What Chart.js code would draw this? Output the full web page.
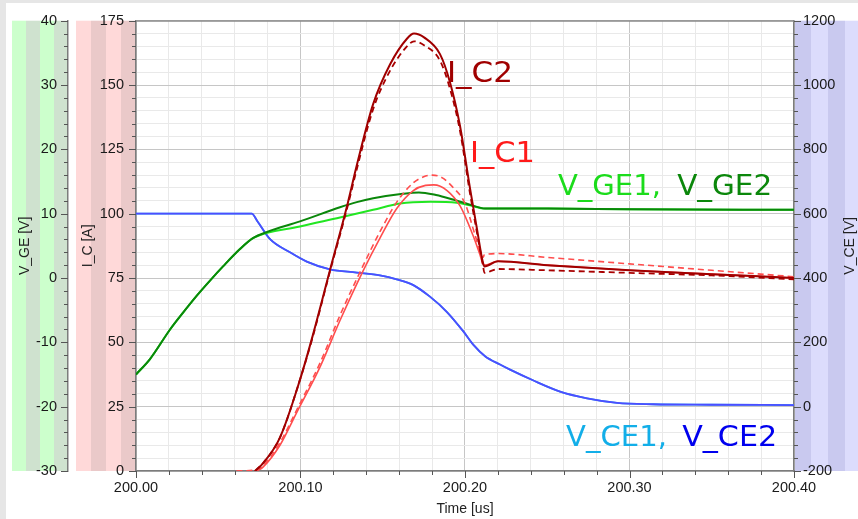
<!DOCTYPE html>
<html><head><meta charset="utf-8">
<script src="https://cdn.jsdelivr.net/npm/chart.js@4"></script>
<style>html,body{margin:0;padding:0;background:#fff}#wrap{width:858px;height:519px;position:relative}</style>
</head><body><div id="wrap"><canvas id="c"></canvas></div>
<script>
// ---- data (time in us) ----
const tVCE = [200.000, 200.0703, 200.0740, 200.0815, 200.0936, 200.1038, 200.1179, 200.1342, 200.1483, 200.1585, 200.1686, 200.1787, 200.1889, 200.1990, 200.2050, 200.2122, 200.2213, 200.2274, 200.2413, 200.2578, 200.2742, 200.2924, 200.3143, 200.3500, 200.4000];
const vCE1 = [600, 600, 575, 521, 480, 451, 427, 417, 408, 396, 378, 342, 295, 234, 193, 157, 131, 115, 82, 47, 26, 12, 7.5, 6, 5];
const vCE2 = [600, 600, 575, 521, 480, 451, 427, 417, 408, 396, 378, 342, 295, 234, 193, 157, 131, 115, 82, 47, 26, 12, 7.5, 6, 5];

const tGE2 = [200.000, 200.0085, 200.0207, 200.0298, 200.0371, 200.045, 200.0529, 200.0632, 200.0711, 200.0800, 200.0997, 200.124, 200.1342, 200.1442, 200.1622, 200.172, 200.1824, 200.1927, 200.2030, 200.2122, 200.25, 200.30, 200.40];
const vGE2 = [-15, -12.6, -8.0, -5.0, -2.7, -0.4, 1.8, 4.5, 6.2, 7.2, 8.8, 11.0, 11.8, 12.4, 13.1, 13.3, 12.9, 12.2, 11.4, 10.8, 10.8, 10.7, 10.6];
const tGE1 = [200.000, 200.0085, 200.0207, 200.0298, 200.0371, 200.045, 200.0529, 200.0632, 200.0711, 200.0997, 200.124, 200.1442, 200.1605, 200.1790, 200.1950, 200.2030, 200.2122, 200.25, 200.30, 200.40];
const vGE1 = [-15, -12.6, -8.0, -5.0, -2.7, -0.4, 1.8, 4.5, 6.2, 8.0, 9.4, 10.6, 11.6, 11.85, 11.7, 11.3, 10.8, 10.8, 10.7, 10.6];

const tIC2 = [200.0723, 200.0772, 200.0875, 200.0997, 200.1076, 200.1179, 200.1283, 200.1343, 200.1441, 200.1544, 200.1647, 200.1690, 200.1751, 200.1848, 200.1909, 200.1970, 200.2030, 200.2073, 200.2109, 200.2118, 200.2200, 200.2500, 200.3000, 200.3500, 200.4000];
const iC2  = [0, 3, 13, 35.5, 53, 78, 103, 119, 142.5, 158, 168, 170, 168.5, 162, 151, 134, 110, 94, 81, 79.5, 81.5, 80, 78, 76.5, 75];
const iC2d = [0, 3, 13, 35.5, 52.5, 77.5, 102, 117.5, 140.5, 155.5, 165, 167, 165.5, 159.5, 148.5, 132, 108, 92.5, 80, 77, 78.5, 78, 77, 76, 74.5];

const tIC1 = [200.0735, 200.0772, 200.0875, 200.0979, 200.1119, 200.1240, 200.1382, 200.1483, 200.1585, 200.1686, 200.1760, 200.1810, 200.1891, 200.1970, 200.2049, 200.2091, 200.2109, 200.2118, 200.2200, 200.2500, 200.3000, 200.3500, 200.4000];
const iC1  = [0, 1.5, 10, 23, 40.5, 58.5, 78, 90.5, 102, 109, 111, 111.2, 109, 103, 91.5, 84, 80.5, 80, 81.5, 80, 78, 76.5, 75];
const tIC1d = [200.0610, 200.0735, 200.0772, 200.0875, 200.0979, 200.1119, 200.1240, 200.1382, 200.1483, 200.1585, 200.1686, 200.1760, 200.1800, 200.1860, 200.1930, 200.2000, 200.2060, 200.2109, 200.2118, 200.2200, 200.2500, 200.3000, 200.3500, 200.4000];
const iC1d  = [0, 0.5, 2, 11, 24, 42, 60.5, 80, 93, 104.5, 112, 114.6, 115, 114, 110, 104, 92, 83, 84, 84.5, 83, 80.5, 78, 75.5];

// tick labels
const xTickLabels  = [200.0, 200.1, 200.2, 200.3, 200.4];
const icTickLabels = [0, 25, 50, 75, 100, 125, 150, 175];
const geTickLabels = [-30, -20, -10, 0, 10, 20, 30, 40];
const ceTickLabels = [-200, 0, 200, 400, 600, 800, 1000, 1200];

// ---- helpers ----
function inList(v, list){ return list.some(a => Math.abs(a - v) < 1e-6); }
function pts(ts, vs){ return ts.map((t, i) => ({x: t, y: vs[i]})); }
function series(label, ts, vs, axis, color, width, dash){
  return {label, data: pts(ts, vs), yAxisID: axis, borderColor: color, borderWidth: width,
    borderDash: dash || [], pointRadius: 0, fill: false, cubicInterpolationMode: 'monotone'};
}
const TICKFONT = {family: '"Liberation Sans", Arial, sans-serif', size: 14.5};
const TITLEFONT = {family: '"Liberation Sans", Arial, sans-serif', size: 14};
const AXIS = '#7c7c7c';
function gridColor(list){
  return c => (c.tick && inList(c.tick.value, list)) ? '#c6c6c6' : '#e9e9e9';
}

function stripes(ctx, x0, x1, y0, y1, cols, w){
  const n = 4; const sw = w || (x1 - x0) / n;
  for (let i = 0, x = x0; x < x1; i++, x += sw){
    ctx.fillStyle = cols[i % 2];
    ctx.fillRect(x, y0, Math.min(sw, x1 - x), y1 - y0);
  }
}
function tickMarks(ctx, scale, side, list){
  ctx.strokeStyle = '#555'; ctx.lineWidth = 1;
  scale.ticks.forEach(t => {
    const major = inList(t.value, list);
    const len = major ? 7 : 4;
    const p = Math.round(scale.getPixelForValue(t.value)) + 0.5;
    ctx.beginPath();
    if (side === 'left'){ ctx.moveTo(scale.right, p); ctx.lineTo(scale.right - len, p); }
    else if (side === 'right'){ ctx.moveTo(scale.left, p); ctx.lineTo(scale.left + len, p); }
    else { ctx.moveTo(p, scale.top); ctx.lineTo(p, scale.top + len); }
    ctx.stroke();
  });
}
function fitText(ctx, text, x, y, w, color){
  ctx.save();
  ctx.font = '28px "DejaVu Sans", Verdana, sans-serif';
  ctx.fillStyle = color; ctx.textBaseline = 'alphabetic'; ctx.textAlign = 'left';
  const m = ctx.measureText(text).width;
  ctx.translate(x, y); ctx.scale(w / m, 1);
  ctx.fillText(text, 0, 0);
  ctx.restore();
}

const deco = {
  id: 'deco',
  beforeDraw(chart){
    const {ctx, chartArea: a, scales: s, width, height} = chart;
    ctx.save();
    ctx.fillStyle = '#fff'; ctx.fillRect(0, 0, width, height);
    ctx.fillStyle = '#e6e6e6'; ctx.fillRect(0, 0, width, 3); ctx.fillRect(0, 0, 6, height);
    stripes(ctx, s.yGE.left, s.yGE.right, a.top, a.bottom, ['#ccffcc', '#cfe2cf']);
    stripes(ctx, s.yIC.left + 8, s.yIC.right, a.top, a.bottom, ['#ffd9d9', '#eac9c9']);
    stripes(ctx, s.yCE.left, width, a.top, a.bottom, ['#c9c9ef', '#dcdcfc'], 17);
    ctx.restore();
  },
  afterDraw(chart){
    const {ctx, chartArea: a, scales: s} = chart;
    ctx.save();
    ctx.strokeStyle = '#8a8a8a'; ctx.lineWidth = 1.5;
    ctx.beginPath(); ctx.moveTo(a.left, a.top + 0.25); ctx.lineTo(a.right, a.top + 0.25); ctx.stroke();
    tickMarks(ctx, s.yGE, 'left', geTickLabels);
    tickMarks(ctx, s.yIC, 'left', icTickLabels);
    tickMarks(ctx, s.yCE, 'right', ceTickLabels);
    tickMarks(ctx, s.x, 'bottom', xTickLabels);
    // right axis title (reads bottom-to-top)
    ctx.save();
    ctx.font = '14px "Liberation Sans", Arial, sans-serif';
    ctx.fillStyle = '#222'; ctx.textAlign = 'center'; ctx.textBaseline = 'middle';
    ctx.translate(s.yCE.right - 8, (a.top + a.bottom) / 2); ctx.rotate(-Math.PI / 2);
    ctx.fillText('V_CE [V]', 0, 0);
    ctx.restore();
    // in-plot labels, anchored in data coordinates
    const X = v => s.x.getPixelForValue(v), Y = v => s.yIC.getPixelForValue(v);
    fitText(ctx, 'I_C2', X(200.189), Y(151.2), 66, '#a00000');
    fitText(ctx, 'I_C1', X(200.203), Y(120), 65, '#ff1a1a');
    fitText(ctx, 'V_GE1,', X(200.2565), Y(107.3), 103, '#1bdc1b');
    fitText(ctx, 'V_GE2', X(200.329), Y(107.3), 95, '#0b870b');
    fitText(ctx, 'V_CE1,', X(200.2614), Y(9.6), 101, '#12aee8');
    fitText(ctx, 'V_CE2', X(200.332), Y(9.6), 95, '#0000ee');
    ctx.restore();
  }
};

new Chart(document.getElementById('c'), {
  type: 'line',
  data: {
    datasets: [
      series('I_C2', tIC2, iC2, 'yIC', '#a00000', 2),
      series('I_C2 (dashed)', tIC2, iC2d, 'yIC', '#a80000', 1.8, [6, 4]),
      series('I_C1', tIC1, iC1, 'yIC', '#ff4d4d', 1.6),
      series('I_C1 (dashed)', tIC1d, iC1d, 'yIC', '#ff4d4d', 1.6, [6, 4]),
      series('V_GE2', tGE2, vGE2, 'yGE', '#0a870a', 2),
      series('V_GE1', tGE1, vGE1, 'yGE', '#22e622', 2),
      series('V_CE2', tVCE, vCE2, 'yCE', '#4d4dff', 1.8),
      series('V_CE1', tVCE, vCE1, 'yCE', '#22a8f0', 1.8)
    ]
  },
  options: {
    responsive: true, maintainAspectRatio: false, animation: false,
    layout: {padding: {left: 12, top: 17, right: 0, bottom: 0}},
    plugins: {legend: {display: false}, tooltip: {enabled: false}},
    elements: {line: {borderCapStyle: 'butt'}},
    scales: {
      x: {
        type: 'linear', position: 'bottom', min: 200, max: 200.4,
        afterFit: sc => { sc.height = 48; },
        ticks: {stepSize: 0.02, autoSkip: false, maxRotation: 0, padding: 8, color: '#1a1a1a', font: TICKFONT,
          callback: v => inList(v, xTickLabels) ? Number(v).toFixed(2) : ''},
        grid: {drawTicks: false, color: gridColor(xTickLabels), lineWidth: 1},
        border: {color: AXIS, width: 1.5},
        title: {display: true, text: 'Time [us]', color: '#222', font: TITLEFONT, padding: {top: 0, bottom: 1}}
      },
      yIC: {
        type: 'linear', position: 'left', weight: 0, min: 0, max: 175,
        afterFit: sc => { sc.width = 68; },
        ticks: {stepSize: 5, autoSkip: false, padding: 12, color: '#1a1a1a', font: TICKFONT,
          callback: v => inList(v, icTickLabels) ? String(v) : ''},
        grid: {drawTicks: false, color: gridColor(icTickLabels), lineWidth: 1},
        border: {color: AXIS, width: 1.5},
        title: {display: true, text: 'I_C [A]', color: '#222', font: TITLEFONT, padding: {top: 11.5, bottom: 0}}
      },
      yGE: {
        type: 'linear', position: 'left', weight: 1, min: -30, max: 40,
        afterFit: sc => { sc.width = 56; },
        ticks: {stepSize: 2, autoSkip: false, padding: 11, color: '#1a1a1a', font: TICKFONT,
          callback: v => inList(v, geTickLabels) ? String(v) : ''},
        grid: {drawTicks: false, drawOnChartArea: false},
        border: {color: AXIS, width: 1.5},
        title: {display: true, text: 'V_GE [V]', color: '#222', font: TITLEFONT, padding: {top: 4.5, bottom: 0}}
      },
      yCE: {
        type: 'linear', position: 'right', min: -200, max: 1200,
        afterFit: sc => { sc.width = 64; },
        ticks: {stepSize: 40, autoSkip: false, padding: 9, color: '#1a1a1a', font: TICKFONT,
          callback: v => inList(v, ceTickLabels) ? String(v) : ''},
        grid: {drawTicks: false, drawOnChartArea: false},
        border: {color: AXIS, width: 1.5},
        title: {display: false}
      }
    }
  },
  plugins: [deco]
});
</script>
</body></html>
